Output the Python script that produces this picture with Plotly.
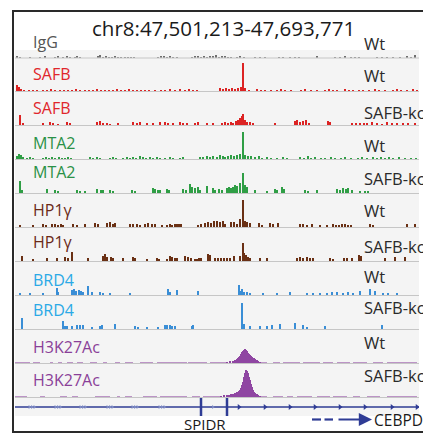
import plotly.graph_objects as go

# ---------------- data ----------------
REGION = "chr8:47,501,213-47,693,771"
N_BINS = 404  # ~0.48 kb bins across the region

TRACK_NAMES = ["IgG", "SAFB", "SAFB", "MTA2", "MTA2", "HP1γ", "HP1γ",
               "BRD4", "BRD4", "H3K27Ac", "H3K27Ac"]
CONDITIONS = ["Wt", "Wt", "SAFB-ko", "Wt", "SAFB-ko", "Wt", "SAFB-ko",
              "Wt", "SAFB-ko", "Wt", "SAFB-ko"]
LABEL_COLORS = ["#555555", "#e0262b", "#e0262b", "#2a9146", "#2a9146", "#6b2a18",
                "#6b2a18", "#2aa9e6", "#2aa9e6", "#8a3f98", "#8a3f98"]
BAR_COLORS = ["#6e6e6e", "#dc2323", "#dc2323", "#2f9e45", "#2f9e45", "#6a3014",
              "#6a3014", "#3a8ed6", "#3a8ed6", "#8f46a2", "#8f46a2"]

# spikes: (bin, signal)
IGG = [(2,2),(5,1),(15,1),(25,1),(30,2),(40,1),(43,2),(48,1),(52,2),(55,1),(60,1),(62,2),(65,1),
       (83,2),(85,3),(88,1),(91,2),(94,1),(97,1),(100,2),(103,1),(106,1),(110,1),(113,1),(116,1),
       (119,1),(143,1),(146,2),(149,2),(152,1),(155,2),(158,1),(162,1),(177,1),(180,2),(183,2),
       (186,1),(189,2),(192,1),(195,2),(198,2),(201,3),(204,1),(207,2),(210,2),(213,1),(216,1),
       (222,1),(225,2),(229,1),(240,1),(245,1),(250,1),(264,1),(268,1),(275,1),(280,1),(284,1),
       (302,2),(320,1),(325,1),(330,2),(336,1),(340,1),(344,1),(362,1),(367,1),(372,1),(378,1),
       (385,1),(392,2),(396,1),(400,3)]
SAFB_WT = [(2,6),(4,4),(6,2),(9,1),(14,1),(18,1),(22,1),(28,1),(32,1),(36,2),(40,1),(45,1),(49,1),
           (53,1),(57,1),(61,2),(65,1),(70,1),(74,1),(78,1),(82,2),(86,1),(90,1),(94,1),(98,1),
           (102,2),(106,1),(110,1),(114,2),(118,1),(122,1),(126,1),(130,1),(134,1),(140,1),(146,1),
           (150,1),(155,2),(160,1),(165,2),(170,1),(174,2),(178,1),(182,1),(205,3),(208,2),(211,3),
           (214,2),(217,3),(220,2),(223,3),(226,4),(228,28),(230,3),(234,1),(242,2),(246,1),(250,1),
           (256,1),(262,1),(266,2),(270,1),(276,1),(286,1),(290,2),(296,1),(302,1),(310,1),(314,2),
           (318,1),(322,1),(330,2),(334,1),(338,1),(344,1),(348,1),(354,1),(360,2),(364,1),(370,1),
           (378,1),(382,2),(386,1),(392,1),(398,2),(402,1)]
SAFB_KO = [(5,10),(8,2),(28,2),(35,3),(38,2),(43,1),(52,3),(55,2),(82,3),(85,4),(88,2),(92,2),(95,1),
           (103,2),(118,3),(122,2),(125,3),(132,2),(138,2),(145,3),(150,3),(153,2),(158,2),(165,3),
           (168,2),(172,2),(180,2),(183,3),(192,2),(198,2),(207,2),(210,3),(213,2),(216,3),(218,2),
           (221,4),(223,5),(225,7),(227,9),(228,11),(230,5),(232,3),(235,3),(238,2),(260,2),(280,4),
           (282,5),(285,3),(288,4),(291,5),(294,2),(313,4),(315,3),(337,2),(341,2),(345,2),(349,2),
           (352,2),(357,3),(362,2),(367,1),(372,3),(377,2),(382,2),(388,2),(393,2),(400,2)]
MTA2_WT = [(2,3),(4,5),(6,4),(8,2),(12,1),(15,2),(18,1),(28,1),(31,2),(34,1),(37,2),(40,1),(44,2),
           (47,1),(50,1),(53,2),(56,1),(75,2),(78,1),(82,2),(85,1),(95,1),(98,2),(101,1),(108,1),
           (112,2),(115,1),(118,2),(121,1),(125,3),(128,2),(131,1),(135,2),(138,1),(142,2),(145,1),
           (150,1),(155,2),(158,1),(165,1),(168,2),(185,2),(188,2),(192,3),(195,2),(198,3),(202,2),
           (205,4),(208,3),(210,2),(213,3),(216,4),(219,3),(222,4),(225,5),(228,27),(230,4),(233,3),
           (236,3),(240,2),(244,3),(247,1),(252,2),(256,1),(262,1),(268,2),(272,1),(285,2),(289,1),
           (293,3),(296,1),(300,2),(306,1),(310,1),(316,2),(320,1),(326,1),(330,2),(336,1),(343,1),
           (347,2),(352,1),(358,2),(362,1),(366,2),(370,1),(374,2),(378,1),(384,2),(390,1),(396,1),
           (401,1)]
MTA2_KO = [(5,12),(7,3),(32,4),(40,3),(43,2),(62,3),(65,2),(70,2),(82,4),(86,3),(88,3),(95,3),(98,2),
           (117,3),(120,2),(138,5),(140,4),(143,3),(145,3),(152,4),(154,3),(168,4),(171,3),(175,9),
           (177,6),(180,5),(183,6),(185,3),(192,7),(198,5),(200,3),(204,4),(207,3),(212,5),(214,6),
           (216,5),(218,6),(220,8),(222,7),(225,10),(228,20),(230,8),(232,6),(240,3),(252,2),(260,4),
           (262,3),(267,6),(269,4),(290,3),(293,2),(302,3),(322,4),(325,3),(328,5),(331,4),(333,5),
           (337,3),(345,2),(350,2),(353,2)]
HP1_WT = [(5,2),(18,2),(28,3),(31,2),(37,3),(40,3),(43,2),(46,3),(48,2),(58,3),(62,2),(70,3),(80,4),
          (83,3),(92,4),(95,5),(98,3),(100,4),(115,3),(118,3),(122,3),(125,2),(130,3),(133,4),(137,3),
          (140,3),(147,2),(152,2),(155,3),(157,2),(160,3),(162,3),(164,3),(166,3),(183,2),(186,3),
          (190,4),(193,5),(196,4),(199,6),(202,6),(205,5),(208,6),(210,3),(216,5),(219,5),(222,3),
          (225,8),(228,27),(230,6),(232,5),(235,4),(244,4),(247,2),(255,4),(258,3),(263,4),(285,3),
          (288,3),(292,2),(297,3),(305,2),(312,2),(318,3),(321,2),(324,2),(327,3),(330,3),(333,2),
          (336,2),(355,3),(358,2),(392,3),(400,3)]
HP1_KO = [(7,5),(18,2),(32,3),(42,3),(50,4),(53,3),(57,9),(73,3),(88,5),(90,7),(92,4),(96,4),(98,3),
          (108,3),(118,4),(120,3),(132,2),(142,3),(144,2),(152,2),(155,5),(157,4),(160,3),(162,3),
          (170,5),(173,4),(176,3),(180,2),(182,2),(184,3),(186,3),(193,7),(195,6),(200,3),(203,3),
          (206,3),(209,3),(212,3),(215,3),(219,5),(225,5),(228,18),(229,8),(231,6),(233,4),(235,3),
          (245,3),(252,3),(282,3),(285,4),(288,3),(292,4),(295,3),(298,3),(315,3),(318,2),(329,3),
          (332,3),(337,3),(344,6),(346,5),(370,3),(380,4),(390,4)]
BRD4_WT = [(5,2),(15,2),(28,2),(42,7),(43,3),(57,5),(59,6),(61,4),(64,5),(66,4),(68,3),(73,9),(77,3),
           (85,3),(88,2),(95,2),(115,2),(153,6),(155,3),(162,5),(183,4),(224,10),(225,4),(227,6),
           (229,3),(232,3),(235,2),(248,2),(262,2),(275,3),(292,2),(298,2),(305,2),(312,2),(317,3),
           (322,3),(328,2),(333,3),(338,2),(345,4),(355,6),(360,4),(368,2),(373,2),(382,2)]
BRD4_KO = [(7,11),(48,8),(50,3),(52,3),(57,3),(62,4),(65,4),(68,4),(77,2),(85,3),(87,4),(100,5),
           (120,3),(123,2),(132,2),(143,2),(150,4),(152,4),(155,4),(157,3),(160,3),(177,3),(178,4),
           (227,26),(229,5),(235,3),(245,3),(252,3),(257,4),(265,5),(280,6),(288,4),(292,2),(310,3),
           (367,4)]
H3K_WT = [(212,1),(215,2),(218,2),(219,2),(220,3),(221,3),(222,4),(223,5),(224,6),(225,7),(226,9),
          (227,11),(228,12),(229,13),(230,14),(231,13),(232,12),(233,10),(234,9),(235,8),(236,7),
          (237,6),(238,5),(239,5),(240,4),(241,3),(242,3),(243,2),(245,1)]
H3K_KO = [(206,1),(209,2),(212,2),(213,2),(214,2),(215,2),(216,3),(217,3),(218,3),(219,3),(220,4),
          (221,4),(222,5),(223,5),(224,6),(225,7),(226,9),(227,12),(228,15),(229,20),(230,24),
          (231,27),(232,26),(233,24),(234,20),(235,17),(236,13),(237,10),(238,7),(239,5),(240,4),
          (241,3),(242,3),(243,2),(245,1)]
# low background intervals: (start_bin, end_bin, signal)
H3K_WT_BG = [(0,15,1),(18,25,1),(35,38,1),(43,47,1),(52,58,1),(62,68,1),(75,82,1),(88,92,1),
             (100,105,1),(110,118,1),(125,138,1),(142,172,1),(173,192,1),(195,211,1),(246,252,1),
             (258,265,1),(268,285,1),(288,305,1),(308,318,1),(322,335,1),(338,352,1),(358,368,1),
             (372,402,1)]
H3K_KO_BG = [(0,12,1),(25,30,1),(45,52,1),(57,63,1),(80,95,1),(102,105,1),(110,117,1),(128,142,1),
             (145,172,1),(177,185,1),(188,205,1),(246,252,1),(258,268,1),(272,278,1),(282,297,1),
             (302,315,1),(318,332,1),(338,345,1),(352,365,1),(372,402,1)]

SPIKES = [IGG, SAFB_WT, SAFB_KO, MTA2_WT, MTA2_KO, HP1_WT, HP1_KO, BRD4_WT, BRD4_KO, H3K_WT, H3K_KO]
BACKGROUND = {9: H3K_WT_BG, 10: H3K_KO_BG}

# gene annotation (bins)
SPIDR_EXONS = [186, 212]
INTRON_ARROWS_SMALL = [14.5, 17, 19.5, 40.5, 43, 45.5, 65.5, 68, 70.5, 92.5, 95, 97.5,
                       117.5, 120, 122.5, 144.5, 147, 149.5, 198]
INTRON_ARROWS = [224, 250, 275, 300, 325, 350, 377, 402]
GENES = ["SPIDR", "CEBPD"]

# ---------------- layout helpers ----------------
W, H = 423, 433
PX0, PX1 = 15, 419
BASELINES = [57.5, 91, 125, 159, 193, 227, 261, 295, 329, 363, 397]
LEFT_LABEL_Y = [42, 74, 108, 143, 172, 210, 242, 280, 310, 347, 380]
RIGHT_LABEL_Y = [43, 75, 112, 145, 178, 210, 246, 276, 307, 342, 375]
TRACK_H = 32
FONT = "Open Sans"
NAVY = "#2f3c95"


def xp(px):
    return px / W


def yp(px):
    return 1 - px / H


fig = go.Figure()
layout_axes = {}
for i, spikes in enumerate(SPIKES):
    ax = "y" if i == 0 else f"y{i + 1}"
    name = "yaxis" if i == 0 else f"yaxis{i + 1}"
    b = BASELINES[i]
    layout_axes[name] = dict(domain=[yp(b), yp(b - TRACK_H)], range=[0, TRACK_H],
                             visible=False, anchor="x", fixedrange=True)
    w = 0.9 if TRACK_NAMES[i] == "BRD4" else (1.05 if TRACK_NAMES[i] == "H3K27Ac" else 1.5)
    if i in BACKGROUND:
        bg = BACKGROUND[i]
        fig.add_trace(go.Bar(x=[(s + e) / 2 for s, e, v in bg], y=[v for s, e, v in bg],
                             width=[e - s for s, e, v in bg], marker_color=BAR_COLORS[i],
                             marker_line_width=0, opacity=0.55, xaxis="x", yaxis=ax,
                             showlegend=False, hoverinfo="skip"))
    fig.add_trace(go.Bar(x=[p for p, v in spikes], y=[v for p, v in spikes], width=w,
                         marker_color=BAR_COLORS[i], marker_line_width=0,
                         xaxis="x", yaxis=ax, showlegend=False, hoverinfo="skip"))

# gene track
gi = len(SPIKES) + 1
gax = f"y{gi}"
layout_axes[f"yaxis{gi}"] = dict(domain=[yp(416), yp(398)], range=[-1, 1], visible=False,
                                 anchor="x", fixedrange=True)
fig.add_trace(go.Scatter(x=[0, N_BINS], y=[0, 0], mode="lines", line=dict(color=NAVY, width=1.5),
                         xaxis="x", yaxis=gax, showlegend=False, hoverinfo="skip"))
fig.add_trace(go.Scatter(x=INTRON_ARROWS_SMALL, y=[0] * len(INTRON_ARROWS_SMALL), mode="markers",
                         marker=dict(symbol="triangle-right", size=3.5, color="#7f8cc6"),
                         xaxis="x", yaxis=gax, showlegend=False, hoverinfo="skip"))
fig.add_trace(go.Scatter(x=INTRON_ARROWS, y=[0] * len(INTRON_ARROWS), mode="markers",
                         marker=dict(symbol="triangle-right", size=5, color=NAVY),
                         xaxis="x", yaxis=gax, showlegend=False, hoverinfo="skip"))
fig.add_trace(go.Scatter(x=SPIDR_EXONS, y=[0] * len(SPIDR_EXONS), mode="markers",
                         marker=dict(symbol="line-ns", size=13, line=dict(color=NAVY, width=2.5)),
                         xaxis="x", yaxis=gax, showlegend=False, hoverinfo="skip"))

shapes = [
    dict(type="rect", xref="paper", yref="paper", x0=xp(PX0), x1=xp(PX1), y0=yp(416), y1=yp(50),
         fillcolor="#f4f4f4", line_width=0, layer="below"),
]
for b in BASELINES:
    shapes.append(dict(type="line", xref="paper", yref="paper", x0=xp(PX0), x1=xp(PX1),
                       y0=yp(b + 0.5), y1=yp(b + 0.5), line=dict(color="#c6c6c6", width=1), layer="below"))
# frame
shapes += [
    dict(type="line", xref="paper", yref="paper", x0=xp(13), x1=xp(13), y0=yp(11), y1=yp(432),
         line=dict(color="#2a2a2a", width=2)),
    dict(type="line", xref="paper", yref="paper", x0=xp(12), x1=xp(430), y0=yp(11), y1=yp(11),
         line=dict(color="#2a2a2a", width=2)),
    dict(type="line", xref="paper", yref="paper", x0=xp(12), x1=xp(430), y0=yp(432), y1=yp(432),
         line=dict(color="#2a2a2a", width=2)),
]
# CEBPD direction arrow: two dashes then a solid arrow
for x0, x1 in [(312, 321), (324.5, 333)]:
    shapes.append(dict(type="line", xref="paper", yref="paper", x0=xp(x0), x1=xp(x1),
                       y0=yp(419.5), y1=yp(419.5), line=dict(color=NAVY, width=2.2)))

ann = [dict(text=REGION, x=xp(223), y=yp(28), xref="paper", yref="paper", showarrow=False,
            font=dict(family=FONT, size=20.5, color="#1a1a1a"), xanchor="center", yanchor="middle")]
for i in range(len(SPIKES)):
    ann.append(dict(text=TRACK_NAMES[i], x=xp(31), y=yp(LEFT_LABEL_Y[i]), xref="paper", yref="paper",
                    showarrow=False, xanchor="left", yanchor="middle",
                    font=dict(family=FONT, size=16, color=LABEL_COLORS[i])))
    ann.append(dict(text=CONDITIONS[i], x=xp(362), y=yp(RIGHT_LABEL_Y[i]), xref="paper", yref="paper",
                    showarrow=False, xanchor="left", yanchor="middle",
                    font=dict(family=FONT, size=16.5, color="#2a2a2a")))
ann.append(dict(text=GENES[0], x=xp(205), y=yp(424), xref="paper", yref="paper", showarrow=False,
                xanchor="center", yanchor="middle", font=dict(family=FONT, size=15, color="#1a1a1a")))
ann.append(dict(text=GENES[1], x=xp(372), y=yp(420), xref="paper", yref="paper", showarrow=False,
                xanchor="left", yanchor="middle", font=dict(family=FONT, size=15.5, color="#1a1a1a")))
ann.append(dict(text="", x=xp(372), y=yp(419.5), ax=-35, ay=0, xref="paper", yref="paper",
                axref="pixel", ayref="pixel", showarrow=True, arrowhead=2, arrowsize=1.2, arrowwidth=2.2,
                arrowcolor=NAVY))

fig.update_layout(
    width=W, height=H, autosize=False, margin=dict(l=0, r=0, t=0, b=0),
    paper_bgcolor="white", plot_bgcolor="rgba(0,0,0,0)", barmode="overlay", bargap=0,
    xaxis=dict(domain=[xp(PX0), xp(PX1)], range=[0, N_BINS], visible=False, fixedrange=True),
    shapes=shapes, annotations=ann, showlegend=False,
    **layout_axes,
)
fig.write_html("out.html", config={"displayModeBar": False},
               post_script="document.body.style.margin='0';document.body.style.overflow='hidden';")
